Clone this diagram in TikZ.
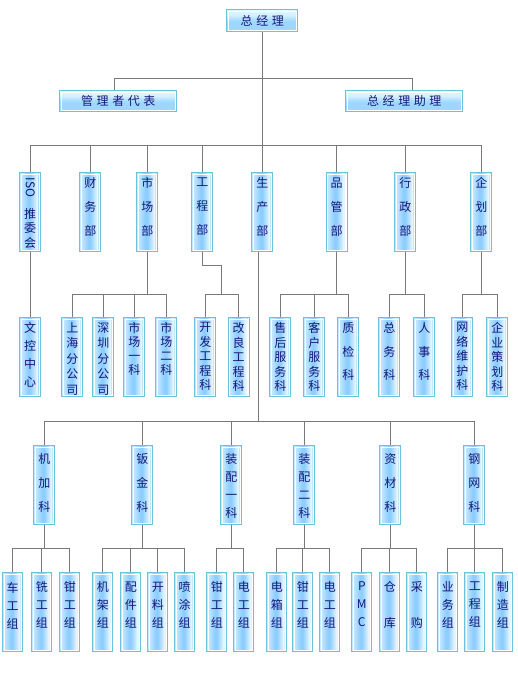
\documentclass[tikz,border=0pt]{standalone}
\usepackage{fontspec}
\setmainfont{Noto Sans CJK SC}
\newfontfamily\headfont[LetterSpace=30]{Noto Sans CJK SC}
\usepackage{graphicx}
\usepackage{tikz}

\definecolor{wire}{HTML}{787878}
\definecolor{rim}{HTML}{6BC3DB}
\definecolor{ink}{HTML}{16167A}
\definecolor{skyA}{HTML}{C4E8FF}
\definecolor{skyB}{HTML}{8DCEFF}
\definecolor{skyC}{HTML}{CDEBFF}
\definecolor{skyD}{HTML}{E6F6FF}
\definecolor{skyE}{HTML}{A0D6F2}
\definecolor{rowA}{HTML}{B8E4FF}
\definecolor{rowB}{HTML}{9CD7FF}
\definecolor{rowC}{HTML}{D5F0FF}
\definecolor{rowD}{HTML}{E4F6FF}

\pgfdeclarehorizontalshading{colshade}{100bp}{color(0bp)=(skyA); color(29bp)=(skyA);
  color(45bp)=(skyB); color(50bp)=(skyB); color(62bp)=(skyC); color(66bp)=(skyD);
  color(68bp)=(skyD); color(68.5bp)=(skyE); color(70.5bp)=(skyE); color(71bp)=(white);
  color(100bp)=(white)}
\pgfdeclareverticalshading{rowshade}{100bp}{color(0bp)=(rowA); color(25bp)=(rowA);
  color(31bp)=(rowB); color(47bp)=(rowB); color(56bp)=(rowA); color(62bp)=(rowC);
  color(75bp)=(rowD); color(100bp)=(rowD)}

% vertical label: top gap, line skip, lines
\newcommand{\vcol}[3]{\parbox[c][79pt][t]{20pt}{\centering
  \fontsize{12pt}{#2pt}\selectfont\vspace*{#1pt}#3\par}}

\begin{document}
\begin{tikzpicture}[x=1pt,y=-1pt,
  link/.style={wire,line width=1pt},
  inset/.style={path picture={\draw[white,line width=1pt]
      ([shift={(1.5pt,1.5pt)}]path picture bounding box.south west) rectangle
      ([shift={(-1.5pt,-1.5pt)}]path picture bounding box.north east);}},
  vbox/.style={draw=rim,line width=1pt,shade,shading=colshade,inset,
    inner sep=0pt,minimum width=21pt,minimum height=79pt,text=ink},
  hbox/.style={draw=rim,line width=1pt,shade,shading=rowshade,inset,
    inner sep=0pt,text=ink,font={\headfont\fontsize{12pt}{14pt}\selectfont}}]
  \fill[white] (0,0) rectangle (517,688);
  \useasboundingbox (0,0) rectangle (517,688);

  \node (gm) at (262.3,20.5) [hbox,minimum width=71pt,minimum height=22pt] {总经理};
  \node (rep) at (118.3,101.2) [hbox,minimum width=117pt,minimum height=21pt] {管理者代表};
  \node (asst) at (404.3,101.2) [hbox,minimum width=117pt,minimum height=21pt] {总经理助理};

  % departments
  \foreach \n/\x/\s/\t in {iso/30.2/14.5/{\rotatebox{-90}{ISO}\\[10pt]推\\委\\会},
      fin/90.3/24/{财\\务\\部}, mkt/147.3/24/{市\\场\\部}, eng/202.3/24/{工\\程\\部},
      prod/262.3/24/{生\\产\\部}, qc/336.5/24/{品\\管\\部}, adm/405.3/24/{行\\政\\部},
      plan/481.3/24/{企\\划\\部}}
    \node (\n) at (\x,212) [vbox] {\vcol{5}{\s}{\t}};

  \foreach \n/\x/\s/\t in {doc/30.2/18/{文\\控\\中\\心},
      sh/72.3/15.5/{上\\海\\分\\公\\司}, sz/103.3/15.5/{深\\圳\\分\\公\\司},
      mk1/134.3/14/{市\\场\\一\\科}, mk2/166.3/14/{市\\场\\二\\科},
      dev/205.3/14.5/{开\\发\\工\\程\\科}, imp/238.7/14.5/{改\\良\\工\\程\\科},
      svc/280.3/14.5/{售\\后\\服\\务\\科}, cus/314.3/14.5/{客\\户\\服\\务\\科},
      qcs/348.3/23.5/{质\\检\\科}, gen/389.3/23.5/{总\\务\\科}, hr/424.3/23.5/{人\\事\\科},
      net/462.3/14.5/{网\\络\\维\\护\\科}, strat/497.3/14.5/{企\\业\\策\\划\\科}}
    \node (\n) at (\x,357) [vbox] {\vcol{5}{\s}{\t}};

  % production sections
  \foreach \n/\x/\s/\t in {mach/44.3/24/{机\\加\\科}, sheet/142.3/24/{钣\\金\\科},
      asm1/231.3/18/{装\\配\\一\\科}, asm2/304.3/18/{装\\配\\二\\科},
      mat/390.3/24/{资\\材\\科}, sten/474.3/24/{钢\\网\\科}}
    \node (\n) at (\x,485) [vbox] {\vcol{7.5}{\s}{\t}};

  \foreach \n/\x/\t in {lathe/12.7/{车\\工\\组}, mill/41.8/{铣\\工\\组}, fit/69.8/{钳\\工\\组},
      frame/102.8/{机\\架\\组}, part/130.8/{配\\件\\组}, cut/157.8/{开\\料\\组},
      spray/184.7/{喷\\涂\\组}, fitA/216.8/{钳\\工\\组}, elecA/243.8/{电\\工\\组},
      box/276.8/{电\\箱\\组}, fitB/302.8/{钳\\工\\组}, elecB/329.8/{电\\工\\组},
      pmc/361.8/{P\\M\\C}, store/389.8/{仓\\~\\库}, buy/416.8/{采\\~\\购},
      sales/447.8/{业\\务\\组}, tech/474.8/{工\\程\\组}, make/502.8/{制\\造\\组}}
    \node (\n) at (\x,612) [vbox,minimum width=20pt] {\vcol{9.4}{18}{\t}};

  % connectors
  \coordinate (busA) at (262.3,78.3);
  \coordinate (busB) at (262.3,145.7);
  \coordinate (engbus) at (221.3,294.3);
  \draw[link] (gm.south) -- (prod.north);
  \draw[link] ([xshift=-4pt]rep.north) |- (busA) -| ([xshift=8pt]asst.north);
  \foreach \d in {iso,fin,mkt,eng,qc,adm,plan}
    \draw[link] (busB) -| (\d.north);
  \draw[link] (iso.south) -- (doc.north);
  \foreach \p/\cs in {mkt/{sh,sz,mk1,mk2},qc/{svc,cus,qcs},adm/{gen,hr},plan/{net,strat}} {
    \draw[link] (\p.south) -- ++(0,42) coordinate (\p-bus);
    \foreach \c in \cs
      \draw[link] (\p-bus) -| (\c.north);
  }
  \draw[link] (eng.south) -- ++(0,13) -| (engbus);
  \foreach \c in {dev,imp}
    \draw[link] (engbus) -| (\c.north);
  \draw[link] ([xshift=-4pt]prod.south) -- ++(0,169.4) coordinate (prod-bus);
  \foreach \c in {mach,sheet,asm1,asm2,mat,sten}
    \draw[link] (prod-bus) -| (\c.north);
  \foreach \p/\cs in {mach/{lathe,mill,fit},sheet/{frame,part,cut,spray},asm1/{fitA,elecA},
      asm2/{box,fitB,elecB},mat/{pmc,store,buy},sten/{sales,tech,make}} {
    \draw[link] (\p.south) -- ++(0,23) coordinate (\p-sub);
    \foreach \c in \cs
      \draw[link] (\p-sub) -| (\c.north);
  }
\end{tikzpicture}
\end{document}
